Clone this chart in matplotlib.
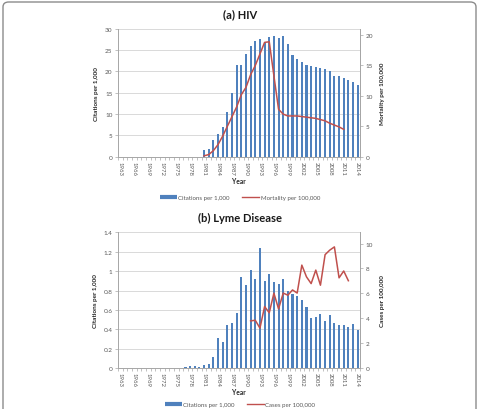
import matplotlib
matplotlib.use('Agg')
import matplotlib.pyplot as plt
import numpy as np
from matplotlib.lines import Line2D
from matplotlib.patches import FancyBboxPatch

# ---------------- data ----------------
years = list(range(1963, 2015))

hiv_citations = [0] * 18 + [
    1.65, 1.8, 4.0, 5.3, 6.9, 10.4, 15.0, 21.5, 21.6, 24.0,
    26.0, 27.1, 27.5, 26.8, 28.0, 28.3, 27.8, 28.3, 26.4, 23.8,
    23.0, 22.1, 21.6, 21.3, 21.0, 20.7, 20.6, 20.1, 18.8, 18.9,
    18.5, 18.0, 17.6, 16.8]

hiv_mort_years = list(range(1981, 2012))
hiv_mortality = [
    0.15, 0.35, 1.0, 2.0, 3.4, 5.0, 6.6, 8.2, 10.2, 11.4,
    13.5, 15.0, 16.9, 18.8, 18.9, 13.3, 7.8, 7.0, 6.7, 6.7,
    6.7, 6.6, 6.5, 6.4, 6.3, 6.1, 5.9, 5.5, 5.2, 4.9, 4.5]

lyme_citations = [0] * 9 + [
    0.003, 0, 0, 0.003, 0.004, 0.01, 0.02, 0.025, 0.017, 0.03,
    0.045, 0.113, 0.31, 0.27, 0.446, 0.47, 0.566, 0.937, 0.858, 1.012,
    0.92, 1.235, 0.9, 0.97, 0.885, 0.868, 0.92, 0.795, 0.765, 0.748,
    0.707, 0.631, 0.518, 0.528, 0.559, 0.49, 0.549, 0.463, 0.443, 0.443,
    0.426, 0.453, 0.398]

lyme_case_years = list(range(1991, 2013))
lyme_cases = [
    3.8, 3.85, 3.22, 4.95, 4.45, 6.02, 4.76, 6.03, 5.86, 6.28,
    6.03, 8.27, 7.33, 6.79, 7.87, 6.66, 9.11, 9.47, 9.73, 7.25,
    7.8, 7.02]

titles = ["(a) HIV", "(b) Lyme Disease"]
left_labels = ["Citations per 1,000", "Citations per 1,000"]
right_labels = ["Mortality per 100,000", "Cases per 100,000"]
bar_names = ["Citations per 1,000", "Citations per 1,000"]
line_names = ["Mortality per 100,000", "Cases per 100,000"]

# ---------------- style ----------------
BLUE = '#4F81BD'
RED = '#C0504D'
GRAY_TXT = '#595959'
GRID = '#D9D9D9'
AXC = '#A6A6A6'
FONT = ['Lato', 'DejaVu Sans']
plt.rcParams['font.family'] = FONT

W, H = 479, 410
fig = plt.figure(figsize=(W / 100, H / 100), dpi=100)

# rounded frame (cropped at bottom)
frame = FancyBboxPatch((3 / W, -0.2), 473 / W, 1.2 - 3 / H,
                       boxstyle="round,pad=0,rounding_size=0.012",
                       transform=fig.transFigure, fill=False,
                       edgecolor='#8C8C8C', linewidth=1.0)
fig.patches.append(frame)


def panel(rect, cit, lyears, lvals, ylim_l, yticks_l, ylim_r, yticks_r,
          title, title_y, llabel, rlabel, year_y, legend_y, bname, lname,
          ticklabels_l):
    ax = fig.add_axes(rect)
    x = np.arange(len(years))
    ax.bar(x, cit, width=0.45, color=BLUE, zorder=3)
    ax.set_xlim(-0.5, len(years) - 0.5)
    ax.set_ylim(*ylim_l)
    ax.set_yticks(yticks_l)
    ax.set_yticklabels(ticklabels_l)
    ax.grid(axis='y', color=GRID, linewidth=0.7, zorder=0)
    ax.set_xticks(x[::3])
    ax.set_xticklabels([str(y) for y in years[::3]], rotation=-90,
                       fontsize=4.3, color=GRAY_TXT)
    ax.set_xticks(np.arange(-0.5, len(years), 1), minor=True)
    ax.tick_params(axis='x', which='major', length=0, pad=3)
    ax.tick_params(axis='x', which='minor', length=2, color=AXC, width=0.5)
    ax.tick_params(axis='y', length=2, color=AXC, width=0.5,
                   labelsize=4.6, labelcolor=GRAY_TXT, pad=2)
    ax.spines['top'].set_visible(False)
    for s in ['left', 'bottom', 'right']:
        ax.spines[s].set_color(AXC)
        ax.spines[s].set_linewidth(0.7)
    ax.set_ylabel(llabel, fontsize=4.6, fontweight='bold', color='#262626',
                  labelpad=4)

    ax2 = ax.twinx()
    lx = [years.index(y) for y in lyears]
    ax2.plot(lx, lvals, color=RED, linewidth=1.1, zorder=4)
    ax2.set_ylim(*ylim_r)
    ax2.set_yticks(yticks_r)
    ax2.tick_params(axis='y', length=2, color=AXC, width=0.5,
                    labelsize=4.6, labelcolor=GRAY_TXT, pad=2)
    ax2.spines['top'].set_visible(False)
    ax2.spines['right'].set_color(AXC)
    ax2.spines['right'].set_linewidth(0.7)
    ax2.spines['left'].set_visible(False)
    ax2.spines['bottom'].set_visible(False)
    ax2.set_ylabel(rlabel, fontsize=4.6, fontweight='bold', color='#262626',
                   labelpad=5)

    fig.text(240 / W, 1 - title_y / H, title, ha='center', va='center',
             fontsize=8, fontweight='bold', color='#1a1a1a')
    fig.text(239 / W, 1 - year_y / H, 'Year', ha='center', va='center',
             fontsize=4.8, fontweight='bold', color='#262626')
    handles = [Line2D([0], [0], color=BLUE, linewidth=3.0,
                      solid_capstyle='butt'),
               Line2D([0], [0], color=RED, linewidth=1.0)]
    fig.legend(handles, [bname, lname], loc='center',
               bbox_to_anchor=(240 / W, 1 - legend_y / H), ncol=2,
               frameon=False, fontsize=4.4, handlelength=2.8,
               handletextpad=0.2, columnspacing=2.0,
               labelcolor=GRAY_TXT)
    return ax, ax2


# panel a
panel([118 / W, 1 - 157.7 / H, 242 / W, 128 / H],
      hiv_citations, hiv_mort_years, hiv_mortality,
      (0, 30), [0, 5, 10, 15, 20, 25, 30],
      (0, 21.05), [0, 5, 10, 15, 20],
      titles[0], 15, left_labels[0], right_labels[0], 182, 198,
      bar_names[0], line_names[0],
      ['0', '5', '10', '15', '20', '25', '30'])

# panel b
panel([118 / W, 1 - 369.3 / H, 242 / W, 136 / H],
      lyme_citations, lyme_case_years, lyme_cases,
      (0, 1.4), [0, 0.2, 0.4, 0.6, 0.8, 1.0, 1.2, 1.4],
      (0, 10.9), [0, 2, 4, 6, 8, 10],
      titles[1], 218, left_labels[1], right_labels[1], 393, 405.5,
      bar_names[1], line_names[1],
      ['0', '0.2', '0.4', '0.6', '0.8', '1', '1.2', '1.4'])

fig.savefig('out.png', dpi=100)
